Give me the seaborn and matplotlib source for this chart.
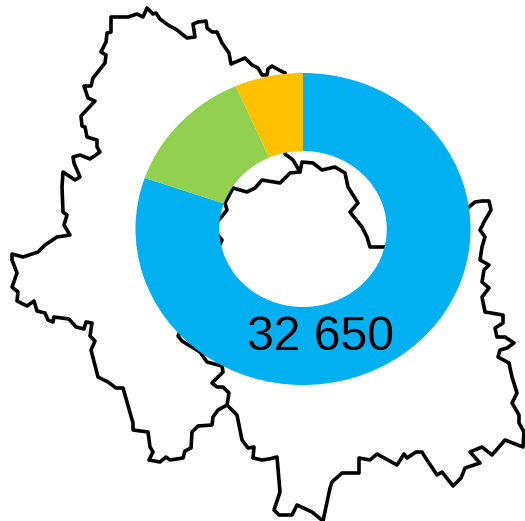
import matplotlib
matplotlib.use("Agg")
import matplotlib.pyplot as plt
import seaborn as sns
import pandas as pd

# outline of the territory (pixels, y going down)
west_outline = [(285,73),(279,70),(272,66),(268,69),(267,75),(262,75),(258,68),(252,65),(245,58),(238,61),(231,64),
    (229,53),(222,43),(217,32),(212,32),(207,28),(206,21),(198,22),(193,24),(195,37),(187,38),(177,30),(168,25),
    (160,19),(156,13),(153,14),(147,8),(143,17),(137,14),(128,17),(111,17),(111,32),(107,33),(106,42),(101,52),
    (106,55),(105,63),(93,78),(91,86),(84,86),(88,98),(95,101),(81,116),(82,126),(85,127),(87,137),(97,140),
    (97,147),(100,152),(90,159),(80,155),(73,157),(74,163),(80,177),(75,180),(63,172),(62,187),(63,212),(67,215),
    (64,225),(70,235),(57,237),(45,245),(38,252),(23,257),(12,254),(12,260),(17,273),(12,287),(18,292),(17,301),
    (27,306),(34,301),(37,311),(45,313),(48,320),(53,322),(54,317),(69,319),(76,327),(84,329),(86,322),(92,323),
    (90,336),(95,341),(91,350),(98,377),(108,382),(116,388),(123,388),(133,423),(133,430),(148,432),(150,447),
    (153,452),(149,460),(160,462),(166,457),(170,460),(183,458),(185,451),(191,448),(192,432),(198,426),(212,425),
    (213,417),(218,410),(227,405)]
inner_border = [(227,405),(229,393),(223,387),(217,387),(212,383),(223,372),(222,366),(207,362),(200,352),(182,341),
    (178,336),(200,290),(222,240),(212,228),(223,215),(227,210),(225,203),(233,188),(247,192),(255,188),(262,180),
    (280,183),(290,173),(300,172),(302,162),(313,163),(322,170),(335,167),(345,173),(348,187),(358,203),(350,212),
    (362,227),(367,237),(370,247),(385,247),(420,240),(469,207)]
north_spur = [(300,172),(293,160),(285,154),(285,73)]
east_outline = [(469,207),(475,202),(482,201),(489,201),(491,210),(484,222),(480,230),(485,237),(482,247),(480,260),
    (489,265),(484,270),(482,282),(489,288),(482,297),(485,312),(503,315),(503,323),(495,328),(497,337),(505,337),
    (514,343),(507,348),(500,350),(498,357),(509,363),(512,377),(517,393),(512,403),(519,415),(519,423),(524,432),
    (523,447),(505,440),(492,455),(482,447),(470,452),(480,463),(465,468),(461,478),(453,486),(442,472),(437,475),
    (425,457),(422,452),(416,452),(407,458),(404,454),(397,465),(377,454),(370,460),(359,458),(359,473),(342,473),
    (332,482),(330,488),(323,521),(312,512),(297,505),(292,515),(279,515),(274,510),(280,492),(277,457),(269,459),
    (262,460),(253,458),(254,447),(248,448),(242,440),(237,415),(227,405)]

# donut
labels = ["a", "b", "c"]
values = [26220, 4280, 2150]
colors = ["#00B0F0", "#92D050", "#FFC000"]
total_label = "32 650"

sns.set_theme(style="white")
plt.rcParams['font.family'] = ['Liberation Sans', 'DejaVu Sans']

W, H = 525, 521
fig = plt.figure(figsize=(W / 100, H / 100), dpi=100)

ax = fig.add_axes([0, 0, 1, 1])
for part in [west_outline, inner_border, north_spur, east_outline]:
    df = pd.DataFrame(part, columns=["x", "y"])
    sns.lineplot(data=df, x="x", y="y", sort=False, estimator=None, color="black", linewidth=2.6,
                 solid_joinstyle="round", ax=ax)
ax.set_xlim(0, W)
ax.set_ylim(H, 0)
ax.axis("off")

# the donut is stretched a bit wider than tall in the original
cx, cy, rx, ry = 303, 229, 167.5, 156
ax2 = fig.add_axes([(cx - rx) / W, 1 - (cy + ry) / H, 2 * rx / W, 2 * ry / H])
ax2.patch.set_alpha(0)
ax2.pie(values, colors=colors, startangle=90, counterclock=False, radius=1,
        wedgeprops={"width": 0.5, "linewidth": 0})
ax2.set_aspect("auto")
ax2.set_xlim(-1, 1)
ax2.set_ylim(-1, 1)

fig.text(320 / W, 1 - 338 / H, total_label, fontsize=34.7, color="black", ha="center", va="center")

fig.savefig("out.png", dpi=100)
